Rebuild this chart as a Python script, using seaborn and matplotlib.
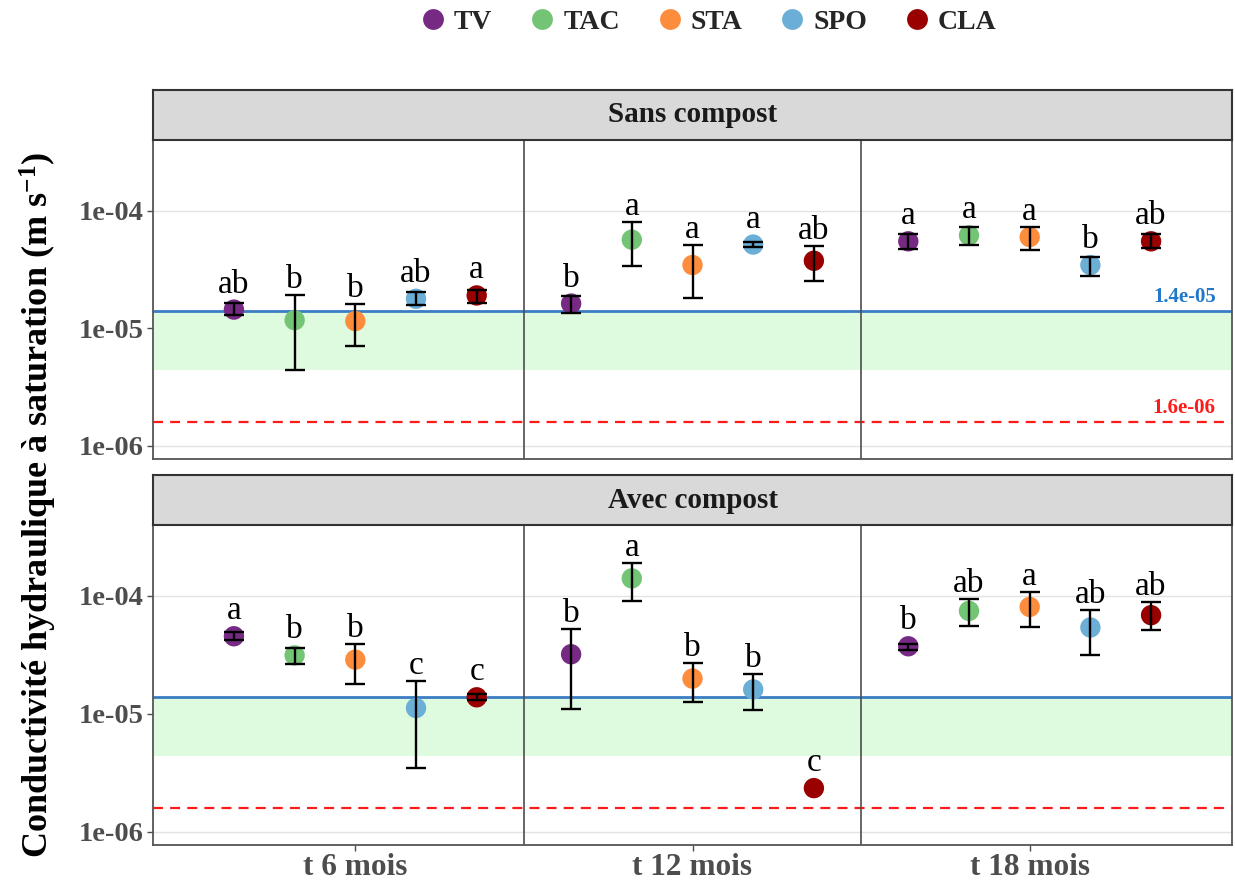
import numpy as np
import pandas as pd
import matplotlib
matplotlib.use("Agg")
import matplotlib.pyplot as plt
from matplotlib.lines import Line2D
from matplotlib.ticker import NullLocator
import matplotlib.transforms as mtransforms
import seaborn as sns

# ---------------- data ----------------
groups = ["TV", "TAC", "STA", "SPO", "CLA"]
times = ["t 6 mois", "t 12 mois", "t 18 mois"]
panels = ["Sans compost", "Avec compost"]
colors = ["#762A83", "#74C476", "#FD8D3C", "#6BAED6", "#990000"]

# ordered time-major, group-minor
sans_mean = [1.44e-5, 1.17e-5, 1.15e-5, 1.78e-5, 1.90e-5,
             1.62e-5, 5.67e-5, 3.45e-5, 5.15e-5, 3.75e-5,
             5.49e-5, 6.17e-5, 5.97e-5, 3.45e-5, 5.49e-5]
sans_lo = [1.29e-5, 4.38e-6, 7.06e-6, 1.57e-5, 1.64e-5,
           1.34e-5, 3.40e-5, 1.81e-5, 4.92e-5, 2.53e-5,
           4.70e-5, 5.15e-5, 4.61e-5, 2.80e-5, 4.77e-5]
sans_hi = [1.64e-5, 1.90e-5, 1.62e-5, 2.02e-5, 2.13e-5,
           1.87e-5, 8.09e-5, 5.11e-5, 5.38e-5, 5.01e-5,
           6.37e-5, 7.24e-5, 7.24e-5, 4.05e-5, 6.29e-5]
sans_letters = ["ab", "b", "b", "ab", "a",
                "b", "a", "a", "a", "ab",
                "a", "a", "a", "b", "ab"]

avec_mean = [4.55e-5, 3.13e-5, 2.88e-5, 1.12e-5, 1.38e-5,
             3.20e-5, 1.41e-4, 1.99e-5, 1.61e-5, 2.34e-6,
             3.74e-5, 7.46e-5, 8.07e-5, 5.40e-5, 6.87e-5]
avec_lo = [4.20e-5, 2.67e-5, 1.80e-5, 3.47e-6, 1.32e-5,
           1.10e-5, 9.08e-5, 1.25e-5, 1.07e-5, 2.34e-6,
           3.50e-5, 5.53e-5, 5.46e-5, 3.13e-5, 5.11e-5]
avec_hi = [4.94e-5, 3.65e-5, 3.94e-5, 1.89e-5, 1.46e-5,
           5.29e-5, 1.91e-4, 2.70e-5, 2.19e-5, 2.34e-6,
           3.94e-5, 9.33e-5, 1.08e-4, 7.67e-5, 8.91e-5]
avec_letters = ["a", "b", "b", "c", "c",
                "b", "a", "b", "b", "c",
                "b", "ab", "a", "ab", "ab"]

ks_ref = 1.4e-5
ks_min = 1.6e-6
band_low = 4.4e-6
ytick_vals = [1e-6, 1e-5, 1e-4]
ytick_labels = ["1e-06", "1e-05", "1e-04"]

# ---------------- build table ----------------
rows = []
for pname, m, lo, hi, let in [
    ("Sans compost", sans_mean, sans_lo, sans_hi, sans_letters),
    ("Avec compost", avec_mean, avec_lo, avec_hi, avec_letters),
]:
    k = 0
    for ti, t in enumerate(times):
        for gi, g in enumerate(groups):
            rows.append(dict(panel=pname, time=t, group=g, ti=ti, gi=gi,
                             mean=m[k], lo=lo[k], hi=hi[k], letter=let[k]))
            k += 1
df = pd.DataFrame(rows)
dodge_w = 0.9
df["x"] = df["ti"] + (df["gi"] - (len(groups) - 1) / 2) * dodge_w / len(groups)

# ---------------- style ----------------
sns.set_theme(style="white")
plt.rcParams["font.family"] = ["Liberation Serif", "DejaVu Serif"]
plt.rcParams["mathtext.fontset"] = "custom"
plt.rcParams["mathtext.rm"] = "Liberation Serif:bold"
plt.rcParams["mathtext.bf"] = "Liberation Serif:bold"
plt.rcParams["mathtext.it"] = "Liberation Serif:bold"
plt.rcParams["mathtext.default"] = "bf"

palette = dict(zip(groups, colors))

W, H = 1235, 884
fig = plt.figure(figsize=(W / 100, H / 100), dpi=100)

left, right = 153, 1232
panel_px = [(140, 459), (525, 845)]
strip_px = [(90, 140), (475, 525)]

def rect(x0, x1, y0, y1):
    return [x0 / W, 1 - y1 / H, (x1 - x0) / W, (y1 - y0) / H]

ylim = (7.7e-7, 4.0e-4)
axes = []
for pi, pname in enumerate(panels):
    ax = fig.add_axes(rect(left, right, *panel_px[pi]))
    axes.append(ax)
    sub = df[df.panel == pname]

    ax.set_yscale("log")
    ax.set_ylim(*ylim)
    ax.set_xlim(-0.6, len(times) - 0.4)

    # grid
    for v in ytick_vals:
        ax.axhline(v, color="#E3E3E3", lw=1.0, zorder=0)
    # reference band & lines
    ax.axhspan(band_low, ks_ref, color="#DFFBDF", lw=0, zorder=0.5)
    ax.axhline(ks_ref, color="#3B7DC4", lw=2.0, zorder=1)
    ax.axhline(ks_min, color="#FF1A1A", lw=1.6, ls=(0, (4.5, 3.2)), zorder=1)
    for xv in np.arange(0.5, len(times) - 0.5, 1.0):
        ax.axvline(xv, color="#4D4D4D", lw=1.2, zorder=1)

    sns.scatterplot(data=sub, x="x", y="mean", hue="group", hue_order=groups,
                    palette=palette, s=215, edgecolor="none", linewidth=0,
                    legend=False, ax=ax, zorder=3)

    eb = sub[sub.hi > sub.lo]
    ax.errorbar(eb["x"], eb["mean"],
                yerr=[eb["mean"] - eb["lo"], eb["hi"] - eb["mean"]],
                fmt="none", ecolor="black", elinewidth=1.7, capsize=7.5,
                capthick=1.7, zorder=4)

    # letters
    fig.canvas.draw()
    for _, r in sub.iterrows():
        _, y_hi = ax.transData.transform((r.x, r.hi))
        _, y_m = ax.transData.transform((r.x, r["mean"]))
        top = max(y_hi, y_m + 10)
        ydata = ax.transData.inverted().transform((0, top))[1]
        ax.annotate(r.letter, (r.x, ydata), xytext=(0, 7), textcoords="offset pixels",
                    ha="center", va="baseline", fontsize=24, color="black", zorder=5)

    ax.set_yticks(ytick_vals)
    ax.set_yticklabels(ytick_labels)
    ax.yaxis.set_minor_locator(NullLocator())
    ax.set_xlabel("")
    ax.set_ylabel("")
    ax.tick_params(axis="y", which="major", length=4, width=1, color="#4D4D4D",
                   labelsize=20.5, labelcolor="#4D4D4D", left=True, pad=3)
    for lab in ax.get_yticklabels():
        lab.set_fontweight("bold")
    if pi == len(panels) - 1:
        ax.set_xticks(range(len(times)))
        ax.set_xticklabels(times)
        ax.tick_params(axis="x", length=4, width=1, color="#4D4D4D",
                       labelsize=22.5, labelcolor="#4D4D4D", bottom=True, pad=2)
        for lab in ax.get_xticklabels():
            lab.set_fontweight("bold")
    else:
        ax.set_xticks([])
    for s in ax.spines.values():
        s.set_color("#555555")
        s.set_linewidth(1.3)
        s.set_visible(True)

    if pi == 0:
        tr = mtransforms.blended_transform_factory(ax.transAxes, ax.transData)
        ax.annotate("1.4e-05", (0.985, ks_ref), xycoords=tr, xytext=(0, 9),
                    textcoords="offset pixels", ha="right", va="baseline",
                    fontsize=15, fontweight="bold", color="#2278C8")
        ax.annotate("1.6e-06", (0.985, ks_min), xycoords=tr, xytext=(0, 9),
                    textcoords="offset pixels", ha="right", va="baseline",
                    fontsize=15, fontweight="bold", color="#FF1A1A")

    # strip
    sax = fig.add_axes(rect(left, right, *strip_px[pi]))
    sax.set_facecolor("#D9D9D9")
    sax.set_xticks([])
    sax.set_yticks([])
    for s in sax.spines.values():
        s.set_color("#333333")
        s.set_linewidth(1.5)
        s.set_visible(True)
    sax.text(0.5, 0.5, pname, transform=sax.transAxes, ha="center", va="center",
             fontsize=21, fontweight="bold", color="#1A1A1A")

# y label
fig.text(38 / W, 1 - 505 / H,
         r"Conductivité hydraulique à saturation (m s$^{-1}$)",
         rotation=90, ha="center", va="center", fontsize=26,
         fontweight="bold", color="black")

# legend
handles = [Line2D([0], [0], marker="o", ls="none", markersize=15,
                  markerfacecolor=c, markeredgecolor="none") for c in colors]
fig.legend(handles, groups, loc="center", bbox_to_anchor=(708 / W, 1 - 22 / H),
           ncol=5, frameon=False, handletextpad=0.25, columnspacing=1.3,
           handlelength=1.0, prop=dict(family="Liberation Serif", weight="bold", size=20))

fig.savefig("out.png", dpi=100)
